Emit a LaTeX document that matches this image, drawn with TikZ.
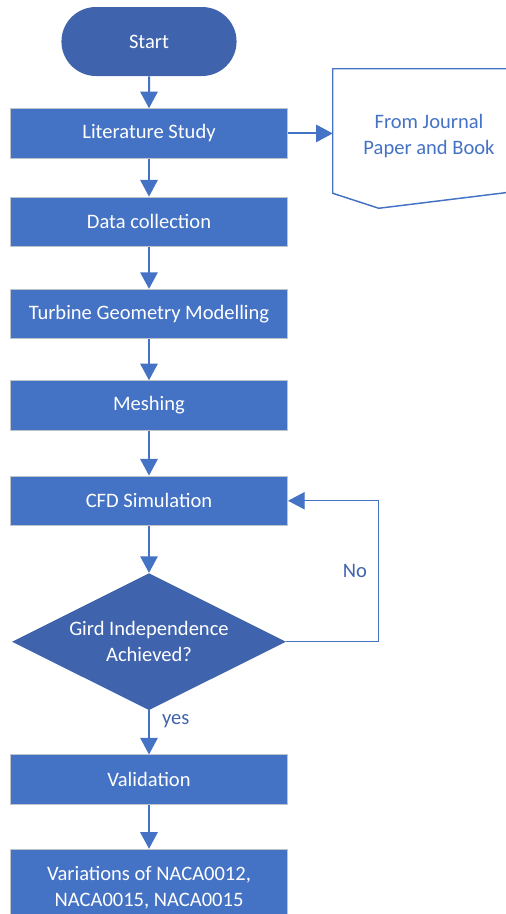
\documentclass[tikz,border=0pt]{standalone}
\usepackage{fontspec}
\setmainfont{Carlito}
\usepackage{tikz}
\usetikzlibrary{positioning,shapes.geometric,shapes.misc,arrows.meta,calc}

\definecolor{boxblue}{HTML}{4472C4}
\definecolor{darkblue}{HTML}{3F63AD}
\definecolor{boxedge}{HTML}{BFC3CB}

\begin{document}
\begin{tikzpicture}[x=0.75pt,y=-0.75pt,>={Triangle[length=12.5pt,width=13pt]},
			font=\fontsize{15.4}{19.5}\selectfont,
			proc box/.style={rectangle,fill=boxblue,draw=boxedge,line width=0.75pt,
				text=white,minimum width=207.75pt,minimum height=37pt,align=center},
			term box/.style={rounded rectangle,fill=darkblue,text=white,
				minimum width=138pt,minimum height=51.75pt},
			decision box/.style={diamond,aspect=2,fill=darkblue,text=white,align=center,
				inner sep=1pt,minimum width=205.5pt,minimum height=102.75pt},
			doc box/.style={rectangle,text=boxblue,align=center,
				minimum width=144pt,minimum height=93pt},
			flow/.style={->,color=boxblue,line width=1.5pt},
			back flow/.style={->,color=boxblue,line width=0.9pt},
			tag/.style={text=darkblue,inner sep=0pt}]
			
			\useasboundingbox (0,0) rectangle (506,914);
			\clip (0,0) rectangle (506,914);
			
			\node[term box] (start) at (149,41.5) {Start};
			\node[proc box] (lit) [below=24pt of start] {Literature Study};
			\node[proc box] (data) [below=28.5pt of lit] {Data collection};
			\node[proc box] (geom) [below=31.5pt of data] {Turbine Geometry Modelling};
			\node[proc box] (mesh) [below=30.75pt of geom] {Meshing};
			\node[proc box] (cfd) [below=33.75pt of mesh] {CFD Simulation};
			\node[decision box] (grid) [below=35.25pt of cfd] {Gird Independence\\Achieved?};
			\node[proc box] (valid) [below=33pt of grid] {Validation};
			\node[proc box,minimum height=57pt] (naca) [below=33pt of valid]
				{Variations of NACA0012,\\NACA0015, NACA0015};
			
			% document shape
			\node[doc box] (doc) at (429,136) {From Journal\\Paper and Book};
			\draw[boxblue,line width=1.1pt,line join=round]
			([yshift=3.75pt]doc.north west) -- ([yshift=3.75pt]doc.north east)
			-- ([yshift=6pt]doc.south east) -- ([xshift=34.5pt,yshift=-7.5pt]doc.south west)
			-- ([yshift=3.75pt]doc.south west) -- cycle;
			
			\path[flow]
			(start) edge (lit)
			(lit) edge (data)
			(data) edge (geom)
			(geom) edge (mesh)
			(mesh) edge (cfd)
			(cfd) edge (grid)
			(grid) edge node[tag,right=9pt,pos=0.25] {yes} (valid)
			(valid) edge (naca);
			
			\draw[flow] (lit.east) -- (lit.east -| doc.west);
			
			% loop back
			\draw[back flow] (grid.east) -- ++(92,0) coordinate (turn)
			|- node[tag,left=8pt,pos=0.25] {No} (cfd.east);
		\end{tikzpicture}
\end{document}
